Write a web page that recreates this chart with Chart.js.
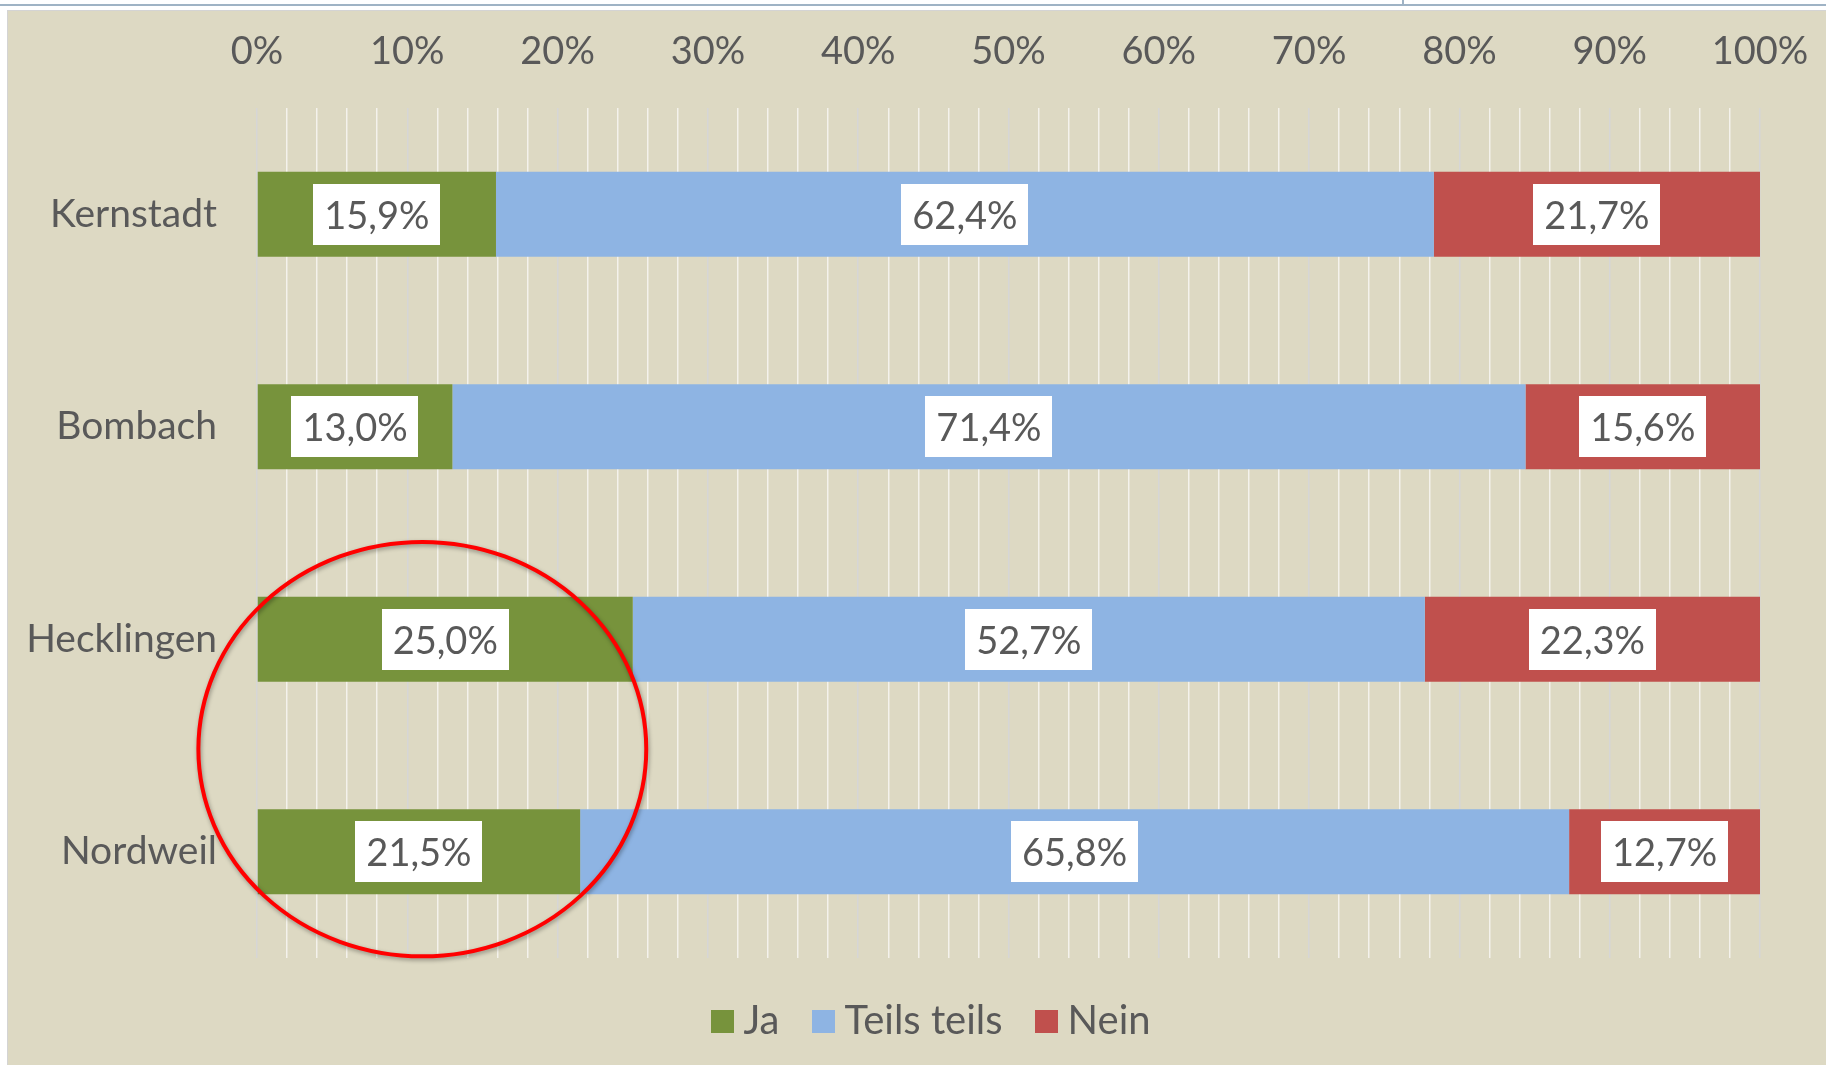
<!DOCTYPE html>
<html>
<head>
<meta charset="utf-8">
<script src="https://cdn.jsdelivr.net/npm/chart.js@4"></script>
<style>
    html, body { margin: 0; padding: 0; background: #ffffff; width: 1826px; height: 1065px; overflow: hidden; }
    #topLine { position: absolute; left: 0; top: 4px; width: 1826px; height: 2px; background: #9fb3c5; }
    #topTick { position: absolute; left: 1402px; top: 0; width: 2px; height: 5px; background: #9fb3c5; }
    #box { position: absolute; left: 7px; top: 10px; width: 1819px; height: 1055px; overflow: hidden;
           border-left: 1px solid #d4d4d4; border-top: 1px solid #d4d4d4; background: #ddd9c3; box-sizing: border-box; }
    #canvasU { display: block; }
</style>
</head>
<body>
<div id="topLine"></div>
<div id="topTick"></div>
<div id="box">
    <canvas id="canvasU" width="1856" height="1054"></canvas>
</div>
<script>
'use strict';

const categories = ['Kernstadt', 'Bombach', 'Hecklingen', 'Nordweil'];
const seriesNames = ['Ja', 'Teils teils', 'Nein'];
const valuesJa = [15.9, 13.0, 25.0, 21.5];
const valuesTeils = [62.4, 71.4, 52.7, 65.8];
const valuesNein = [21.7, 15.6, 22.3, 12.7];
const colors = ['#77933c', '#8eb4e3', '#c0504d'];

const fontFamily = 'Lato, "Open Sans", sans-serif';
const textColor = '#595959';

function percentText(v){
    return v.toFixed(1).replace('.', ',') + '%';
}

// small square used as legend marker (keeps the text close to the square)
function legendSquare(color){
    const c = document.createElement('canvas');
    c.width = 23;
    c.height = 23;
    const g = c.getContext('2d');
    g.fillStyle = color;
    g.fillRect(0, 0, 23, 23);
    return c;
}

// white boxes with the value in the middle of every segment
const boxLabels = {
    id: 'boxLabels',
    afterDatasetsDraw(chart){
        const ctx = chart.ctx;
        ctx.save();
        ctx.font = '38px ' + fontFamily;
        ctx.textAlign = 'center';
        ctx.textBaseline = 'middle';
        chart.data.datasets.forEach((ds, i) => {
            const meta = chart.getDatasetMeta(i);
            meta.data.forEach((bar, j) => {
                const text = percentText(ds.data[j]);
                const cx = (bar.x + bar.base) / 2;
                const cy = bar.y;
                const w = ctx.measureText(text).width + 22;
                const h = 61;
                ctx.fillStyle = '#ffffff';
                ctx.fillRect(Math.round(cx - w / 2), Math.round(cy - h / 2), Math.round(w), h);
                ctx.fillStyle = textColor;
                ctx.fillText(text, cx, cy + 2);
            });
        });
        ctx.restore();
    }
};

// red ring drawn round the Ja part of the last two rows
const redRing = {
    id: 'redRing',
    afterDraw(chart){
        const x = chart.scales.x;
        const y = chart.scales.y;
        const cx = x.getPixelForValue(11);
        const cy = y.getPixelForValue(2.517);
        const rx = x.getPixelForValue(11 + 14.9) - cx;
        const ry = (y.getPixelForValue(3) - y.getPixelForValue(2)) * 0.975;
        const ctx = chart.ctx;
        ctx.save();
        ctx.shadowColor = 'rgba(0,0,0,0.35)';
        ctx.shadowBlur = 4;
        ctx.shadowOffsetX = 1;
        ctx.shadowOffsetY = 2;
        ctx.strokeStyle = '#ff0000';
        ctx.lineWidth = 4;
        ctx.beginPath();
        ctx.ellipse(cx, cy, rx, ry, 0, 0, Math.PI * 2);
        ctx.stroke();
        ctx.restore();
    }
};

const data = {
    labels: categories,
    datasets: [
        { label: seriesNames[0], data: valuesJa, backgroundColor: colors[0], pointStyle: legendSquare(colors[0]) },
        { label: seriesNames[1], data: valuesTeils, backgroundColor: colors[1], pointStyle: legendSquare(colors[1]) },
        { label: seriesNames[2], data: valuesNein, backgroundColor: colors[2], pointStyle: legendSquare(colors[2]) }
    ]
};

const config = {
    type: 'bar',
    data: data,
    plugins: [boxLabels, redRing],
    options: {
        indexAxis: 'y',
        responsive: false,
        animation: false,
        layout: { padding: { left: 0, right: 0, top: 0, bottom: 14 } },
        datasets: {
            bar: { categoryPercentage: 0.5, barPercentage: 0.8, borderWidth: 0 }
        },
        scales: {
            x: {
                position: 'top',
                stacked: true,
                min: 0,
                max: 100,
                border: { display: false },
                grid: {
                    drawTicks: false,
                    lineWidth: 1.5,
                    color: (c) => (Math.round(c.tick.value) % 10 === 0 ? '#d6d6d6' : '#f4f2ec')
                },
                ticks: {
                    stepSize: 2,
                    autoSkip: false,
                    maxRotation: 0,
                    padding: 33,
                    color: textColor,
                    font: { size: 38, family: fontFamily },
                    callback: (v) => (Math.round(v) % 10 === 0 ? Math.round(v) + '%' : '')
                },
                afterFit: (scale) => {
                    scale.height = 97;
                    scale.paddingLeft = 0;
                    scale.paddingRight = 104;
                }
            },
            y: {
                stacked: true,
                border: { display: false },
                grid: { display: false, drawTicks: false },
                ticks: {
                    padding: 40,
                    color: textColor,
                    font: { size: 39, family: fontFamily }
                },
                afterFit: (scale) => {
                    scale.width = 249;
                    scale.paddingTop = 0;
                    scale.paddingBottom = 0;
                }
            }
        },
        plugins: {
            tooltip: { enabled: false },
            legend: {
                position: 'bottom',
                labels: {
                    usePointStyle: true,
                    pointStyleWidth: 2,
                    boxHeight: 23,
                    padding: 43,
                    color: textColor,
                    font: { size: 40, family: fontFamily }
                }
            }
        }
    }
};

const ctxU = document.querySelector('#canvasU').getContext('2d');
let chartU = new Chart(ctxU, config);
</script>
</body>
</html>
